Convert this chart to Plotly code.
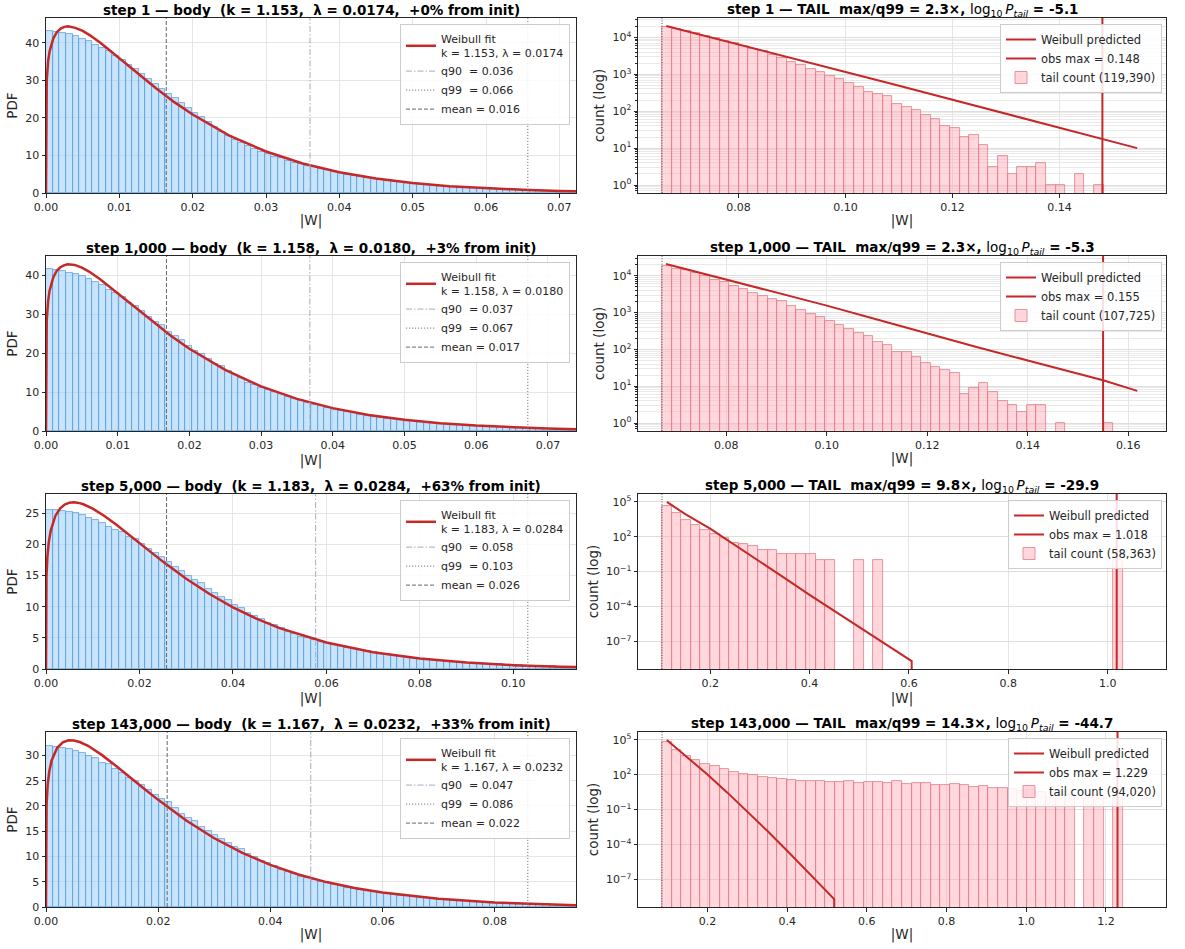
import plotly.graph_objects as go
import math

# ---------------- data ----------------
steps = ["1", "1,000", "5,000", "143,000"]
weibull_k = [1.153, 1.158, 1.183, 1.167]
weibull_lam = [0.0174, 0.0180, 0.0284, 0.0232]
pct_from_init = [0, 3, 63, 33]
q90_vals = [0.0360, 0.0368, 0.0577, 0.0472]
q99_vals = [0.0657, 0.0672, 0.1031, 0.0859]
mean_vals = [0.0164, 0.0168, 0.0258, 0.0216]
max_over_q99 = [2.3, 2.3, 9.8, 14.3]
log10_p_tail = [-5.1, -5.3, -29.9, -44.7]
obs_max = [0.148, 0.155, 1.018, 1.229]
tail_total = [119390, 107725, 58363, 94020]

body_pdf_1 = [43.1, 43.0, 42.7, 42.3, 41.7, 41.0, 40.4, 39.5, 38.6, 37.7,
              36.6, 35.5, 34.2, 33.0, 31.6, 30.4, 29.1, 27.8, 26.5, 25.2,
              24.0, 22.7, 21.4, 20.2, 19.0, 17.5, 16.2, 15.2, 14.2, 13.4,
              12.5, 11.8, 11.0, 10.4, 9.7, 9.2, 8.6, 8.1, 7.7, 7.3,
              6.85, 6.4, 6.0, 5.6, 5.25, 4.9, 4.55, 4.25, 3.98, 3.72,
              3.47, 3.24, 3.03, 2.83, 2.64, 2.47, 2.3, 2.15, 2.0, 1.87,
              1.74, 1.62, 1.51, 1.41, 1.31, 1.22, 1.14, 1.06, 0.99, 0.92,
              0.86, 0.8, 0.75, 0.7, 0.65, 0.6, 0.56, 0.52, 0.49, 0.46]
body_pdf_2 = [41.6, 41.4, 41.0, 40.6, 40.2, 39.7, 39.1, 38.1, 37.4, 36.1,
              35.3, 34.3, 32.9, 32.0, 30.8, 29.2, 28.0, 27.1, 25.3, 24.3,
              23.4, 21.8, 20.5, 19.8, 18.4, 17.2, 16.6, 15.4, 14.3, 13.6,
              12.4, 11.7, 11.0, 10.4, 10.0, 9.4, 8.8, 8.2, 7.7, 7.2,
              6.75, 6.3, 5.9, 5.5, 5.15, 4.8, 4.5, 4.2, 3.93, 3.67,
              3.43, 3.2, 2.99, 2.8, 2.62, 2.45, 2.29, 2.14, 2.0, 1.87,
              1.75, 1.63, 1.52, 1.42, 1.33, 1.24, 1.16, 1.08, 1.01, 0.95,
              0.89, 0.83, 0.77, 0.72, 0.67, 0.63, 0.59, 0.55, 0.51, 0.48]
body_pdf_3 = [25.5, 25.5, 25.3, 25.2, 25.0, 24.7, 24.2, 23.9, 23.4, 22.8,
              22.3, 21.9, 21.2, 20.8, 20.1, 19.2, 18.6, 18.0, 17.1, 16.4,
              15.7, 14.9, 14.3, 13.8, 12.8, 12.2, 11.5, 11.0, 10.2, 9.8,
              9.0, 8.5, 8.0, 7.4, 7.1, 6.6, 6.0, 5.6, 5.2, 4.9,
              4.6, 4.35, 4.1, 3.85, 3.62, 3.4, 3.2, 3.0, 2.82, 2.65,
              2.48, 2.33, 2.18, 2.04, 1.91, 1.79, 1.67, 1.56, 1.46, 1.36,
              1.27, 1.19, 1.11, 1.04, 0.97, 0.91, 0.85, 0.79, 0.74, 0.69,
              0.64, 0.6, 0.56, 0.52, 0.48, 0.45, 0.42, 0.39, 0.36, 0.33]
body_pdf_4 = [31.9, 31.7, 31.4, 31.3, 30.9, 30.5, 29.9, 29.5, 28.5, 28.3,
              27.3, 26.6, 25.6, 25.0, 24.2, 23.1, 22.1, 21.3, 20.7, 19.5,
              18.5, 17.6, 17.0, 15.9, 15.0, 14.2, 13.4, 12.6, 11.9, 11.5,
              10.5, 9.8, 9.1, 8.7, 8.1, 7.4, 7.0, 6.6, 6.0, 5.7,
              5.35, 5.0, 4.68, 4.38, 4.1, 3.84, 3.59, 3.36, 3.14, 2.94,
              2.75, 2.57, 2.4, 2.25, 2.1, 1.96, 1.84, 1.72, 1.61, 1.5,
              1.4, 1.31, 1.23, 1.15, 1.07, 1.0, 0.94, 0.88, 0.82, 0.77,
              0.72, 0.67, 0.63, 0.59, 0.55, 0.51, 0.48, 0.45, 0.42, 0.39]

fit_x_1 = [0, 0.00002, 0.0001, 0.0003, 0.0005, 0.001, 0.0015, 0.002, 0.0025, 0.003, 0.0035,
           0.004, 0.005, 0.006, 0.0075, 0.01, 0.0125, 0.015, 0.0175, 0.02, 0.025, 0.03,
           0.035, 0.04, 0.045, 0.05, 0.055, 0.06, 0.065, 0.07, 0.0725]
fit_y_1 = [0, 23.5, 30.0, 35.3, 37.8, 41.2, 42.9, 43.8, 44.26, 44.4, 44.3,
           44.0, 43.2, 42.0, 39.9, 35.9, 31.8, 27.9, 24.2, 20.9, 15.3, 11.05,
           7.86, 5.53, 3.85, 2.66, 1.82, 1.24, 0.84, 0.56, 0.46]
fit_x_2 = [0, 0.00002, 0.0001, 0.0003, 0.0005, 0.001, 0.0015, 0.002, 0.0025, 0.003, 0.0035,
           0.004, 0.005, 0.006, 0.0075, 0.01, 0.0125, 0.015, 0.0175, 0.02, 0.025, 0.03,
           0.035, 0.04, 0.045, 0.05, 0.055, 0.06, 0.065, 0.07, 0.074]
fit_y_2 = [0, 22.0, 28.3, 33.4, 36.0, 39.3, 41.1, 42.0, 42.5, 42.75, 42.75,
           42.6, 41.9, 40.9, 39.0, 35.3, 31.5, 27.8, 24.3, 21.1, 15.7, 11.45,
           8.24, 5.87, 4.13, 2.89, 2.0, 1.38, 0.945, 0.643, 0.471]
fit_x_3 = [0, 0.00002, 0.0001, 0.0003, 0.0006, 0.001, 0.002, 0.003, 0.004, 0.005, 0.006,
           0.007, 0.008, 0.01, 0.0125, 0.015, 0.0175, 0.02, 0.025, 0.03, 0.035, 0.04,
           0.045, 0.05, 0.06, 0.07, 0.08, 0.09, 0.1, 0.11, 0.114]
fit_y_3 = [0, 11.0, 14.8, 18.0, 20.35, 22.15, 24.55, 25.74, 26.37, 26.67, 26.73,
           26.64, 26.42, 25.73, 24.54, 23.17, 21.69, 20.18, 17.22, 14.47, 12.03, 9.9,
           8.08, 6.56, 4.24, 2.68, 1.67, 1.03, 0.62, 0.37, 0.30]
fit_x_4 = [0, 0.00002, 0.0001, 0.0003, 0.0006, 0.001, 0.002, 0.003, 0.004, 0.005, 0.006,
           0.0075, 0.01, 0.0125, 0.015, 0.0175, 0.02, 0.025, 0.03, 0.035, 0.04, 0.045,
           0.05, 0.055, 0.06, 0.07, 0.08, 0.09, 0.0945]
fit_y_4 = [0, 15.5, 20.2, 24.2, 26.9, 29.0, 31.5, 32.6, 32.98, 32.95, 32.65,
           31.9, 30.05, 27.9, 25.6, 23.4, 21.2, 17.1, 13.6, 10.7, 8.34, 6.44,
           4.93, 3.76, 2.85, 1.61, 0.89, 0.49, 0.37]

tail_counts_1 = [19500, 17000, 15000, 13000, 11200, 9600, 8200, 7000, 6000, 5000,
                 4150, 3400, 2700, 2200, 1800, 1400, 1170, 910, 740, 590,
                 455, 340, 295, 260, 155, 134, 107, 79, 60, 40,
                 36, 20, 22, 12, 3, 6, 2, 3, 3, 4,
                 1, 1, 0, 2, 0, 1, 0, 0, 0, 0]
tail_counts_2 = [18700, 15800, 14000, 11600, 9800, 7900, 6600, 5300, 4300, 3400,
                 2900, 2350, 2050, 1520, 1200, 920, 750, 580, 470, 350,
                 280, 225, 160, 135, 83, 83, 62, 43, 33, 28,
                 23, 6, 9, 12, 7, 4, 3, 2, 3, 3,
                 0, 1, 0, 0, 0, 0, 1, 0, 0, 0]
tail_counts_3 = [42000, 11000, 2900, 1000, 400, 190, 75, 28, 26, 16,
                 8, 7, 3, 3, 3, 3, 1, 1, 0, 0,
                 1, 0, 1, 0, 0, 0, 0, 0, 0, 0,
                 0, 0, 0, 0, 0, 0, 0, 0, 0, 0,
                 0, 0, 0, 0, 0, 0, 0, 1, 0, 0]
tail_counts_4 = [66000, 13000, 4300, 1770, 900, 560, 290, 180, 122, 100,
                 67, 50, 40, 36, 30, 28, 32, 24, 22, 30,
                 20, 24, 25, 18, 28, 15, 18, 20, 14, 13,
                 16, 12, 9, 11, 7, 8, 6, 4, 5, 3,
                 1, 2, 2, 0, 1, 2, 0, 1, 0, 0]

pred_x_1 = [0.0665, 0.08, 0.09, 0.10, 0.11, 0.12, 0.13, 0.14, 0.148, 0.1545]
pred_y_1 = [20400, 6300, 2700, 1150, 490, 205, 87, 37, 18, 10]
pred_x_2 = [0.068, 0.08, 0.09, 0.10, 0.11, 0.12, 0.13, 0.14, 0.15, 0.155, 0.1618]
pred_y_2 = [21000, 8000, 3600, 1550, 650, 270, 115, 50, 22, 14.5, 7.5]
pred_x_3 = [0.113, 0.15, 0.2, 0.25, 0.3, 0.35, 0.4, 0.45, 0.5, 0.55, 0.6, 0.6055, 0.625]
pred_y_3 = [1e5, 8.9e3, 5.0e2, 2.0e1, 7.9e-1, 2.8e-2, 1.0e-3, 4.0e-5, 1.6e-6, 6.3e-8,
            2.5e-9, 2.0e-9, 0]
pred_x_4 = [0.098, 0.15, 0.2, 0.25, 0.3, 0.35, 0.4, 0.45, 0.5, 0.518, 0.535]
pred_y_4 = [1e5, 3.3e3, 1.05e2, 2.9, 6.8e-2, 1.5e-3, 2.9e-5, 5.2e-7, 8.7e-9, 2.0e-9, 0]

body_pdfs = [body_pdf_1, body_pdf_2, body_pdf_3, body_pdf_4]
fit_xs = [fit_x_1, fit_x_2, fit_x_3, fit_x_4]
fit_ys = [fit_y_1, fit_y_2, fit_y_3, fit_y_4]
tail_counts = [tail_counts_1, tail_counts_2, tail_counts_3, tail_counts_4]
pred_xs = [pred_x_1, pred_x_2, pred_x_3, pred_x_4]
pred_ys = [pred_y_1, pred_y_2, pred_y_3, pred_y_4]

# ---------------- style / layout ----------------
FONT = "DejaVu Sans"
W, H = 1185, 949
RED = "#c62828"
BODY_FILL = "rgba(144,202,249,0.5)"
BODY_EDGE = "#5e9fdc"
TAIL_FILL = "rgba(255,160,175,0.42)"
TAIL_EDGE = "#e27c86"
INK = "#262626"
row_tops = [18, 256, 494, 732]
ROW_H = 175
LEFT_PX = (46, 576)
RIGHT_PX = (638, 1166)
body_dtick = [0.01, 0.01, 0.02, 0.02]
body_ydtick = [10, 10, 5, 5]
tail_dtick = [0.02, 0.02, 0.2, 0.2]
tail_fmt = [".2f", ".2f", ".1f", ".1f"]
N_BODY = 80
N_TAIL = 50
NB = "\u00a0"

fig = go.Figure()
layout = dict(width=W, height=H, margin=dict(l=0, r=0, t=0, b=0, autoexpand=False),
              paper_bgcolor="white", plot_bgcolor="white",
              font=dict(family=FONT, color=INK), bargap=0,
              showlegend=True, hovermode=False)
shapes = []
annotations = []


def ids(n):
    s = "" if n == 1 else str(n)
    return "x" + s, "y" + s, "xaxis" + s, "yaxis" + s


def axis_base():
    return dict(showline=True, linecolor=INK, linewidth=1, mirror=True, automargin=False,
                ticks="outside", ticklen=3.5, tickwidth=1, tickcolor=INK,
                showgrid=True, gridcolor="#e5e5e5", gridwidth=1, zeroline=False,
                tickfont=dict(family=FONT, size=11, color=INK))


def sup(n):
    s = str(n).replace("-", "\u2212")
    return "10<sup>" + s + "</sup>"


for i in range(4):
    top = row_tops[i]
    ydom = [(H - (top + ROW_H)) / H, (H - top) / H]
    title_y = (H - max(top - 8.5, 10)) / H
    nl = 2 * i + 1
    nr = 2 * i + 2
    xl, yl, xkl, ykl = ids(nl)
    xr, yr, xkr, ykr = ids(nr)
    legL = "legend" if nl == 1 else f"legend{nl}"
    legR = f"legend{nr}"

    # ---------- body panel ----------
    q99 = q99_vals[i]
    hi_body = 1.1 * q99
    bw = hi_body / N_BODY
    centers = [(j + 0.5) * bw for j in range(N_BODY)]
    fig.add_trace(go.Bar(x=centers, y=body_pdfs[i], width=bw, xaxis=xl, yaxis=yl,
                         marker=dict(color=BODY_FILL, line=dict(color=BODY_EDGE, width=0.8)),
                         showlegend=False))
    fig.add_trace(go.Scatter(x=fit_xs[i], y=fit_ys[i], mode="lines", xaxis=xl, yaxis=yl,
                             line=dict(color=RED, width=2.5),
                             name=f"Weibull fit<br>k = {weibull_k[i]:.3f}, λ = {weibull_lam[i]:.4f}",
                             legend=legL, legendrank=1))
    vdefs = [(q90_vals[i], "#a3adbd", "6px,2px,1.5px,2px", f"q90{NB}{NB}= {q90_vals[i]:.3f}"),
             (q99_vals[i], "#7a7a7a", "1.2px,1.8px", f"q99{NB}{NB}= {q99_vals[i]:.3f}"),
             (mean_vals[i], "#666666", "4px,2px", f"mean = {mean_vals[i]:.3f}")]
    for rank, (xv, col, dash, label) in enumerate(vdefs, start=2):
        shapes.append(dict(type="line", xref=xl, yref=f"{yl} domain", x0=xv, x1=xv, y0=0, y1=1,
                           line=dict(color=col, width=1, dash=dash), layer="above"))
        fig.add_trace(go.Scatter(x=[None], y=[None], mode="lines", xaxis=xl, yaxis=yl,
                                 line=dict(color=col, width=1, dash=dash), name=label,
                                 legend=legL, legendrank=rank))
    ymax_body = max(max(body_pdfs[i]), max(fit_ys[i])) * 1.05
    ax = axis_base()
    ax.update(domain=[LEFT_PX[0] / W, LEFT_PX[1] / W], anchor=yl, range=[0, hi_body],
              dtick=body_dtick[i], tick0=0, tickformat=".2f",
              title=dict(text="|W|", font=dict(size=13.5), standoff=2))
    layout[xkl] = ax
    ay = axis_base()
    ay.update(domain=ydom, anchor=xl, range=[0, ymax_body], dtick=body_ydtick[i], tick0=0,
              title=dict(text="PDF", font=dict(size=13.5), standoff=4))
    layout[ykl] = ay
    layout[legL] = dict(xref="paper", yref="paper", x=570 / W, y=(H - top - 6) / H,
                        xanchor="right", yanchor="top", bgcolor="rgba(255,255,255,0.85)",
                        bordercolor="#cccccc", borderwidth=1,
                        font=dict(family=FONT, size=11, color=INK), tracegroupgap=0,
                        itemwidth=30)
    annotations.append(dict(
        xref="paper", yref="paper", x=(LEFT_PX[0] + LEFT_PX[1]) / 2 / W, y=title_y,
        xanchor="center", yanchor="middle", showarrow=False,
        text=f"<b>step {steps[i]} — body{NB}{NB}(k = {weibull_k[i]:.3f},{NB}{NB}λ = {weibull_lam[i]:.4f},"
             f"{NB}{NB}+{pct_from_init[i]}% from init)</b>",
        font=dict(family=FONT, size=13.5, color="black")))

    # ---------- tail panel ----------
    lo = q99
    hi = 1.05 * obs_max[i]
    tw = (hi - lo) / N_TAIL
    tcent = [lo + (j + 0.5) * tw for j in range(N_TAIL)]
    tvals = [c if c > 0 else None for c in tail_counts[i]]
    fig.add_trace(go.Bar(x=tcent, y=tvals, width=tw, xaxis=xr, yaxis=yr,
                         marker=dict(color=TAIL_FILL, line=dict(color=TAIL_EDGE, width=0.8)),
                         name=f"tail count ({tail_total[i]:,})", legend=legR, legendrank=3))
    py = [v if v > 0 else 1e-300 for v in pred_ys[i]]
    fig.add_trace(go.Scatter(x=pred_xs[i], y=py, mode="lines", xaxis=xr, yaxis=yr,
                             line=dict(color=RED, width=2), name="Weibull predicted",
                             legend=legR, legendrank=1))
    fig.add_trace(go.Scatter(x=[None], y=[None], mode="lines", xaxis=xr, yaxis=yr,
                             line=dict(color=RED, width=2), name=f"obs max = {obs_max[i]:.3f}",
                             legend=legR, legendrank=2))
    shapes.append(dict(type="line", xref=xr, yref=f"{yr} domain", x0=obs_max[i], x1=obs_max[i],
                       y0=0, y1=1, line=dict(color=RED, width=2), layer="above"))
    shapes.append(dict(type="line", xref=xr, yref=f"{yr} domain", x0=q99, x1=q99,
                       y0=0, y1=1, line=dict(color="#555555", width=1, dash="1px,1.6px"),
                       layer="above"))
    pos = [c for c in tail_counts[i] if c > 0] + [v for v in pred_ys[i] if v > 0]
    lmin, lmax = math.log10(min(pos)), math.log10(max(pos))
    span = lmax - lmin
    yr_range = [lmin - 0.05 * span, lmax + 0.05 * span]
    pad = 0.05 * (hi - lo)
    ax = axis_base()
    ax.update(domain=[RIGHT_PX[0] / W, RIGHT_PX[1] / W], anchor=yr, range=[lo - pad, hi + pad],
              dtick=tail_dtick[i], tick0=0, tickformat=tail_fmt[i],
              title=dict(text="|W|", font=dict(size=13.5), standoff=2))
    layout[xkr] = ax
    ay = axis_base()
    if i < 2:
        exps = [0, 1, 2, 3, 4]
        minor_vals = [m * 10 ** e for e in range(-1, 5) for m in range(2, 10)]
        ay.update(minor=dict(tickvals=minor_vals, showgrid=True, gridcolor="#e9e9e9",
                             gridwidth=1, ticks="outside", ticklen=2, tickcolor=INK))
    else:
        exps = [-7, -4, -1, 2, 5]
    ay.update(domain=ydom, anchor=xr, type="log", range=yr_range,
              tickvals=[10.0 ** e for e in exps], ticktext=[sup(e) for e in exps],
              gridcolor="#dedede",
              title=dict(text="count (log)", font=dict(size=13.5), standoff=4))
    layout[ykr] = ay
    layout[legR] = dict(xref="paper", yref="paper", x=1162 / W, y=(H - top - 6) / H,
                        xanchor="right", yanchor="top", bgcolor="rgba(255,255,255,0.85)",
                        bordercolor="#cccccc", borderwidth=1,
                        font=dict(family=FONT, size=11.5, color=INK), tracegroupgap=0,
                        itemwidth=30)
    annotations.append(dict(
        xref="paper", yref="paper", x=(RIGHT_PX[0] + RIGHT_PX[1]) / 2 / W, y=title_y,
        xanchor="center", yanchor="middle", showarrow=False,
        text=f"<b>step {steps[i]} — TAIL{NB}{NB}max/q99 = {max_over_q99[i]:.1f}×, </b>"
             f"log<sub>10</sub>\u2009<i>P<sub>tail</sub></i><b> = {log10_p_tail[i]:.1f}</b>",
        font=dict(family=FONT, size=13.5, color="black")))

layout["shapes"] = shapes
layout["annotations"] = annotations
fig.update_layout(**layout)
fig.write_html("out.html")
